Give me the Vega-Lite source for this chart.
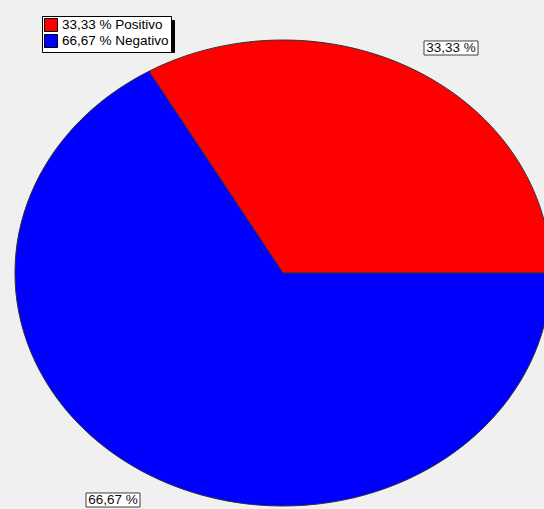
{
  "$schema": "https://vega.github.io/schema/vega-lite/v6.json",
  "width": 544,
  "height": 509,
  "padding": 0,
  "autosize": {"type": "none"},
  "background": "#f0f0f0",
  "config": {
    "view": {"stroke": null},
    "font": "Liberation Sans",
    "legend": {
      "labelFont": "Liberation Sans",
      "labelFontSize": 13.5,
      "symbolType": "square",
      "symbolSize": 169,
      "symbolStrokeWidth": 1,
      "padding": 2,
      "rowPadding": 0
    }
  },
  "data": {
    "values": [
      {"categoria": "Positivo", "valor": 33.33, "pct": "33,33 %", "label": "33,33 % Positivo"},
      {"categoria": "Negativo", "valor": 66.67, "pct": "66,67 %", "label": "66,67 % Negativo"}
    ]
  },
  "layer": [
    {
      "mark": {"type": "point", "filled": true, "opacity": 1, "size": 287296, "stroke": "#333333", "strokeWidth": 1, "xOffset": 11, "yOffset": 18.5},
      "encoding": {
        "color": {
          "field": "label", "type": "nominal",
          "scale": {"range": ["#ff0000", "#0000ff"]},
          "legend": {
            "title": null, "orient": "none", "legendX": 42, "legendY": 16, "labelOffset": 4,
            "symbolType": "square", "symbolSize": 169, "symbolStrokeWidth": 1, "rowPadding": -6, "padding": 2,
            "symbolStrokeColor": "#000000", "symbolOpacity": 1,
            "fillColor": "#ffffff", "strokeColor": "#000000", "labelColor": "#000000", "zindex": 2
          }
        },
        "shape": {
          "field": "categoria", "type": "nominal",
          "scale": {"domain": ["Positivo", "Negativo"], "range": [
            "M0 0 L1 0 A1 0.8694 0 0 0 -0.5 -0.7529 Z",
            "M0 0 L-0.5 -0.7529 A1 0.8694 0 1 0 1 0 Z"
          ]},
          "legend": null
        }
      }
    },
    {
      "mark": {"type": "point", "filled": true, "opacity": 1, "size": 2916, "fill": "#ffffff", "strokeWidth": 1, "shape": "M-1 -0.26 H1 V0.26 H-1 Z"},
      "encoding": {
        "x": {"field": "label", "type": "nominal", "scale": {"type": "point", "range": [451, 113], "padding": 0}, "axis": null},
        "y": {"field": "label", "type": "nominal", "scale": {"type": "point", "range": [48, 500], "padding": 0}, "axis": null},
        "stroke": {
          "field": "label", "type": "nominal",
          "scale": {"domain": ["33,33 % Positivo", "66,67 % Negativo"], "range": ["#404040", "#404040"]},
          "legend": {
            "title": null, "orient": "none", "legendX": 46, "legendY": 20, "labelOffset": 110, "labelExpr": "''",
            "symbolType": "square", "symbolSize": 169, "symbolStrokeWidth": 1, "rowPadding": -6, "padding": 2, "symbolOpacity": 0,
            "fillColor": "#000000", "strokeColor": "#000000", "labelColor": "#000000", "zindex": 1
          }
        }
      }
    },
    {
      "mark": {"type": "text", "font": "Liberation Sans", "fontSize": 13.5, "color": "#111111", "align": "center", "baseline": "middle"},
      "encoding": {
        "x": {"field": "label", "type": "nominal"},
        "y": {"field": "label", "type": "nominal"},
        "text": {"field": "pct"}
      }
    }
  ]
}
